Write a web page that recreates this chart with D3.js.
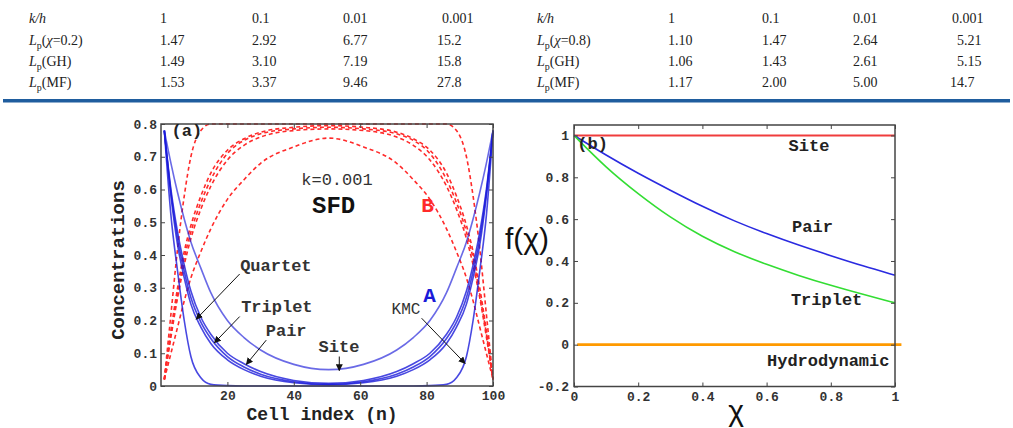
<!DOCTYPE html>
<meta charset="utf-8">
<title>SFD concentration profiles and f(chi)</title>
<style>
    body {
        margin: 0;
        background: #fff;
    }
    .tbl text {
        font-family: "Liberation Serif", serif;
        font-size: 14px;
        fill: #222;
    }
    .tick text {
        font-family: "Liberation Mono", monospace;
        font-weight: bold;
        font-size: 13px;
        fill: #333;
    }
    .tick line {
        stroke: #444;
    }
    .lbl {
        font-family: "Liberation Mono", monospace;
        fill: #222;
    }
</style>

<body>
    <script src="https://d3js.org/d3.v7.min.js"></script>
    <script>
        /* Table: L_p values for different k/h */
        var khValues = ["1", "0.1", "0.01", "0.001"];
        var leftRowNames = ["\u03c7=0.2", "GH", "MF"];
        var leftChi02 = ["1.47", "2.92", "6.77", "15.2"];
        var leftGH = ["1.49", "3.10", "7.19", "15.8"];
        var leftMF = ["1.53", "3.37", "9.46", "27.8"];
        var rightRowNames = ["\u03c7=0.8", "GH", "MF"];
        var rightChi08 = ["1.10", "1.47", "2.64", "5.21"];
        var rightGH = ["1.06", "1.43", "2.61", "5.15"];
        var rightMF = ["1.17", "2.00", "5.00", "14.7"];

        /* Panel (a): concentration profiles, cell index n */
        var cellIndex = [1, 3, 5, 7, 9, 12, 15, 20, 25, 30, 40, 50.5, 61, 71, 76, 81, 86, 89, 92, 94, 96, 98, 100];
        var siteA = [0.78, 0.68, 0.59, 0.51, 0.44, 0.36, 0.285, 0.20, 0.148, 0.11, 0.066, 0.05, 0.066, 0.11, 0.148, 0.20, 0.285, 0.36, 0.44, 0.51, 0.59, 0.68, 0.78];
        var pairA = [0.78, 0.60, 0.47, 0.37, 0.29, 0.21, 0.158, 0.10, 0.068, 0.044, 0.017, 0.008, 0.017, 0.044, 0.068, 0.10, 0.158, 0.21, 0.29, 0.37, 0.47, 0.60, 0.78];
        var tripletA = [0.78, 0.59, 0.45, 0.35, 0.27, 0.195, 0.145, 0.09, 0.058, 0.036, 0.013, 0.005, 0.013, 0.036, 0.058, 0.09, 0.145, 0.195, 0.27, 0.35, 0.45, 0.59, 0.78];
        var quartetA = [0.78, 0.58, 0.43, 0.33, 0.25, 0.18, 0.13, 0.08, 0.05, 0.03, 0.01, 0.004, 0.01, 0.03, 0.05, 0.08, 0.13, 0.18, 0.25, 0.33, 0.43, 0.58, 0.78];
        var kmcA = [0.78, 0.52, 0.35, 0.20, 0.09, 0.025, 0.005, 0.001, 0, 0, 0, 0, 0, 0, 0, 0.001, 0.005, 0.025, 0.09, 0.20, 0.35, 0.52, 0.78];
        var siteB = [0.02, 0.10, 0.18, 0.26, 0.33, 0.41, 0.48, 0.57, 0.63, 0.68, 0.73, 0.757, 0.73, 0.68, 0.63, 0.57, 0.48, 0.41, 0.33, 0.26, 0.18, 0.10, 0.02];
        var pairB = [0.02, 0.15, 0.27, 0.37, 0.45, 0.54, 0.61, 0.69, 0.735, 0.76, 0.78, 0.785, 0.78, 0.76, 0.735, 0.69, 0.61, 0.54, 0.45, 0.37, 0.27, 0.15, 0.02];
        var tripletB = [0.02, 0.16, 0.28, 0.39, 0.47, 0.56, 0.63, 0.71, 0.75, 0.77, 0.785, 0.79, 0.785, 0.77, 0.75, 0.71, 0.63, 0.56, 0.47, 0.39, 0.28, 0.16, 0.02];
        var quartetB = [0.02, 0.17, 0.30, 0.41, 0.49, 0.58, 0.65, 0.72, 0.755, 0.775, 0.79, 0.795, 0.79, 0.775, 0.755, 0.72, 0.65, 0.58, 0.49, 0.41, 0.30, 0.17, 0.02];
        var kmcB = [0.02, 0.22, 0.42, 0.58, 0.70, 0.78, 0.80, 0.80, 0.80, 0.80, 0.80, 0.80, 0.80, 0.80, 0.80, 0.80, 0.80, 0.78, 0.70, 0.58, 0.42, 0.22, 0.02];

        /* Panel (b): f(chi) */
        var chi = [0, 0.1, 0.2, 0.3, 0.4, 0.5, 0.6, 0.7, 0.8, 0.9, 1];
        var pairF = [1, 0.905, 0.818, 0.738, 0.66, 0.59, 0.53, 0.475, 0.425, 0.376, 0.332];
        var tripletF = [1, 0.845, 0.72, 0.607, 0.515, 0.442, 0.383, 0.33, 0.283, 0.24, 0.2];
        var siteChi = [0, 1];
        var siteF = [1, 1];
        var hydroChi = [0.01, 1.02];
        var hydroF = [0, 0];

        var width = 1013,
            height = 428;

        var svg = d3.select("body").append("svg")
            .attr("width", width)
            .attr("height", height);

        drawTable();
        drawPanelA();
        drawPanelB();

        /* ---------- table ---------- */
        function drawTable() {
            var g = svg.append("g").attr("class", "tbl");
            var rowY = [23, 45, 66, 87];

            function lpLabel(x, y, inner) {
                var t = g.append("text").attr("x", x).attr("y", y);
                t.append("tspan").attr("font-style", "italic").text("L");
                t.append("tspan").attr("font-size", "10px").attr("dy", 4).text("p");
                t.append("tspan").attr("dy", -4).text("(");
                if (inner.charAt(0) == "\u03c7") {
                    t.append("tspan").attr("font-style", "italic").text("\u03c7");
                    t.append("tspan").text(inner.slice(1) + ")");
                } else {
                    t.append("tspan").text(inner + ")");
                }
            }

            // decimal aligned number
            function num(xDec, y, s) {
                var parts = s.split(".");
                g.append("text").attr("x", xDec).attr("y", y).attr("text-anchor", "end").text(parts[0]);
                g.append("text").attr("x", xDec).attr("y", y).text("." + parts[1]);
            }

            function block(x0, headX, decX, names, rows) {
                g.append("text").attr("x", x0).attr("y", rowY[0])
                    .attr("font-style", "italic").text("k/h");
                khValues.forEach(function (v, j) {
                    g.append("text").attr("x", headX[j]).attr("y", rowY[0]).text(v);
                });
                names.forEach(function (nm, i) {
                    lpLabel(x0, rowY[i + 1], nm);
                    rows[i].forEach(function (v, j) {
                        num(decX[j], rowY[i + 1], v);
                    });
                });
            }

            block(29, [160, 252, 343, 442], [167, 259, 350, 451], leftRowNames, [leftChi02, leftGH, leftMF]);
            block(537, [668, 762, 853, 952], [675, 769, 860, 964], rightRowNames, [rightChi08, rightGH, rightMF]);

            svg.append("rect")
                .attr("x", 3).attr("y", 99)
                .attr("width", 1007).attr("height", 3.5)
                .attr("fill", "#1f5d9e");
        }

        /* frame with inward ticks on all sides */
        function drawFrame(x, y, xTicks, yTicks, fx, fy, padY) {
            var g = svg.append("g");
            var x0 = x.range()[0], x1 = x.range()[1];
            var y0 = y.range()[0], y1 = y.range()[1];
            g.append("g").attr("transform", "translate(" + x0 + ",0)")
                .call(d3.axisLeft(y).tickValues(yTicks).tickSizeInner(-4).tickSizeOuter(0).tickPadding(padY).tickFormat(fy));
            g.append("g").attr("transform", "translate(" + x1 + ",0)")
                .call(d3.axisRight(y).tickValues(yTicks).tickSizeInner(-4).tickSizeOuter(0).tickFormat(""));
            g.append("g").attr("transform", "translate(0," + y0 + ")")
                .call(d3.axisBottom(x).tickValues(xTicks).tickSizeInner(-4).tickSizeOuter(0).tickPadding(5).tickFormat(fx));
            g.append("g").attr("transform", "translate(0," + y1 + ")")
                .call(d3.axisTop(x).tickValues(xTicks).tickSizeInner(-4).tickSizeOuter(0).tickFormat(""));
            g.selectAll(".domain").remove();
            g.append("rect")
                .attr("x", x0).attr("y", y1)
                .attr("width", x1 - x0).attr("height", y0 - y1)
                .attr("fill", "none").attr("stroke", "#444").attr("stroke-width", 1.5);
            return g;
        }

        /* ---------- panel (a) ---------- */
        function drawPanelA() {
            var x = d3.scaleLinear().domain([0, 100]).range([161, 493]);
            var y = d3.scaleLinear().domain([0, 0.8]).range([386, 124]);

            var line = d3.line()
                .x(function (d) { return x(d[0]); })
                .y(function (d) { return y(d[1]); })
                .curve(d3.curveMonotoneX);

            var g = svg.append("g");
            [siteB, pairB, tripletB, quartetB, kmcB].forEach(function (vals) {
                g.append("path")
                    .datum(d3.zip(cellIndex, vals))
                    .attr("d", line)
                    .attr("fill", "none")
                    .attr("stroke", "#ff2a2a")
                    .attr("stroke-width", 1.6)
                    .attr("stroke-dasharray", "4,3");
            });
            [siteA, pairA, tripletA, quartetA, kmcA].forEach(function (vals, i) {
                g.append("path")
                    .datum(d3.zip(cellIndex, vals))
                    .attr("d", line)
                    .attr("fill", "none")
                    .attr("stroke", "#1a1ad9")
                    .attr("stroke-opacity", i == 0 ? 0.65 : 0.8)
                    .attr("stroke-width", 1.6);
            });

            drawFrame(x, y, [20, 40, 60, 80, 100], d3.range(0, 0.81, 0.1),
                function (d) { return d; },
                function (d) { return d < 0.001 ? "0" : d.toFixed(1); }, 4);

            svg.append("text").attr("class", "lbl")
                .attr("transform", "translate(124,260) rotate(-90)")
                .attr("text-anchor", "middle")
                .style("font-size", "19px")
                .style("font-weight", "bold")
                .text("Concentrations");
            svg.append("text").attr("class", "lbl")
                .attr("x", 322).attr("y", 420)
                .attr("text-anchor", "middle")
                .style("font-size", "18px")
                .style("font-weight", "bold")
                .text("Cell index (n)");

            // annotations in data coordinates: [text, n, v, size, colour, weight]
            var notes = [
                ["(a)", 7.8, 0.776, 17, "#222", "bold"],
                ["k=0.001", 53, 0.629, 17, "#333", "normal"],
                ["SFD", 52, 0.547, 24, "#111", "bold"],
                ["B", 80.3, 0.547, 21, "#ff2a2a", "bold"],
                ["A", 80.9, 0.272, 21, "#1a1ad9", "bold"],
                ["Quartet", 34.6, 0.365, 17, "#333", "bold"],
                ["Triplet", 34.9, 0.241, 17, "#333", "bold"],
                ["Pair", 37.7, 0.166, 17, "#333", "bold"],
                ["Site", 53.6, 0.119, 17, "#333", "bold"],
                ["KMC", 73.8, 0.232, 16, "#333", "normal"]
            ];
            notes.forEach(function (n) {
                svg.append("text").attr("class", "lbl")
                    .attr("x", x(n[1])).attr("y", y(n[2]))
                    .attr("text-anchor", "middle")
                    .attr("dominant-baseline", "central")
                    .style("font-size", n[3] + "px")
                    .style("font-weight", n[5])
                    .style("fill", n[4])
                    .text(n[0]);
            });

            svg.append("defs").append("marker")
                .attr("id", "arr")
                .attr("viewBox", "0 0 10 10")
                .attr("refX", 9).attr("refY", 5)
                .attr("markerWidth", 7).attr("markerHeight", 7)
                .attr("orient", "auto-start-reverse")
                .append("path").attr("d", "M0,0 L10,5 L0,10 z").attr("fill", "#111");

            // arrows: [from n, from v, to n, to v]
            var arrows = [
                [23.7, 0.342, 10.6, 0.204],
                [23.7, 0.212, 16.1, 0.132],
                [31.7, 0.14, 25.7, 0.066],
                [53.7, 0.09, 53.7, 0.047],
                [78.5, 0.207, 91.6, 0.069]
            ];
            arrows.forEach(function (a) {
                svg.append("line")
                    .attr("x1", x(a[0])).attr("y1", y(a[1]))
                    .attr("x2", x(a[2])).attr("y2", y(a[3]))
                    .attr("stroke", "#111").attr("stroke-width", 1)
                    .attr("marker-end", "url(#arr)");
            });
        }

        /* ---------- panel (b) ---------- */
        function drawPanelB() {
            var x = d3.scaleLinear().domain([0, 1]).range([574, 895]);
            var y = d3.scaleLinear().domain([-0.2, 1.05]).range([386.5, 125]);

            var line = d3.line()
                .x(function (d) { return x(d[0]); })
                .y(function (d) { return y(d[1]); })
                .curve(d3.curveBasis);

            var series = [
                [siteChi, siteF, "#f03c3c", 2],
                [hydroChi, hydroF, "#ff9a00", 2.6],
                [chi, pairF, "#2a2ae0", 1.6],
                [chi, tripletF, "#33dd33", 1.6]
            ];
            series.forEach(function (s) {
                svg.append("path")
                    .datum(d3.zip(s[0], s[1]))
                    .attr("d", line)
                    .attr("fill", "none")
                    .attr("stroke", s[2])
                    .attr("stroke-width", s[3]);
            });

            drawFrame(x, y, [0, 0.2, 0.4, 0.6, 0.8, 1], [-0.2, 0, 0.2, 0.4, 0.6, 0.8, 1],
                function (d) { return String(+d.toFixed(1)); },
                function (d) { return String(+d.toFixed(1)); }, 5);

            var notes = [
                ["(b)", 0.058, 0.959],
                ["Site", 0.732, 0.946],
                ["Pair", 0.743, 0.562],
                ["Triplet", 0.787, 0.21],
                ["Hydrodynamic", 0.792, -0.079]
            ];
            notes.forEach(function (n) {
                svg.append("text").attr("class", "lbl")
                    .attr("x", x(n[1])).attr("y", y(n[2]))
                    .attr("text-anchor", "middle")
                    .attr("dominant-baseline", "central")
                    .style("font-size", "17px")
                    .style("font-weight", "bold")
                    .text(n[0]);
            });

            svg.append("text")
                .attr("x", 527).attr("y", 249)
                .attr("text-anchor", "middle")
                .attr("font-family", "Liberation Sans, Arial")
                .attr("font-size", "30px")
                .attr("fill", "#111")
                .text("f(\u03c7)");
            svg.append("text")
                .attr("x", 736).attr("y", 421)
                .attr("text-anchor", "middle")
                .attr("font-family", "Liberation Sans, Arial")
                .attr("font-size", "30px")
                .attr("fill", "#111")
                .text("\u03c7");
        }
    </script>
</body>
